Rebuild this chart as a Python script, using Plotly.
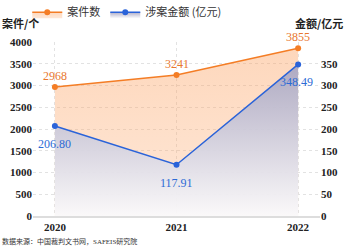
import plotly.graph_objects as go

years = ["2020", "2021", "2022"]
cases = [2968, 3241, 3855]
amount = [206.80, 117.91, 348.49]
case_labels = ["2968", "3241", "3855"]
amount_labels = ["206.80", "117.91", "348.49"]
left_ticks = [0, 500, 1000, 1500, 2000, 2500, 3000, 3500, 4000]
right_ticks = [0, 50, 100, 150, 200, 250, 300, 350]

ORANGE = "#f47d25"
BLUE = "#2a63d9"
SERIF = "Liberation Serif, Times New Roman, serif"
CJK = "Noto Sans CJK SC, sans-serif"

fig = go.Figure()
fig.add_trace(go.Scatter(
    x=years, y=cases, name="案件数", mode="lines+markers",
    line=dict(color=ORANGE, width=1.5), marker=dict(color=ORANGE, size=6),
    fill="tozeroy",
    fillgradient=dict(type="vertical", colorscale=[[0, "rgba(252,175,120,0.30)"], [1, "rgba(252,160,95,0.42)"]]),
    yaxis="y", cliponaxis=False,
))
fig.add_trace(go.Scatter(
    x=years, y=amount, name="涉案金额 (亿元)", mode="lines+markers",
    line=dict(color=BLUE, width=1.5), marker=dict(color=BLUE, size=6),
    fill="tozeroy",
    fillgradient=dict(type="vertical", colorscale=[[0, "rgba(250,250,252,0.93)"], [1, "rgba(168,166,194,0.93)"]]),
    yaxis="y2", cliponaxis=False,
))

annots = []
for i, (y, t) in enumerate(zip(cases, case_labels)):
    annots.append(dict(x=i, y=y, xref="x", yref="y", text=t, showarrow=False,
                       yshift=11, font=dict(family=SERIF, size=12, color="#e8772e")))
for i, (y, t) in enumerate(zip(amount, amount_labels)):
    annots.append(dict(x=i, y=y, xref="x", yref="y2", text=t, showarrow=False,
                       yshift=-18, xshift=(-2 if i == 2 else 0),
                       font=dict(family=SERIF, size=12, color="#2c6bd6")))

annots += [
    dict(text="案件/个", xref="paper", yref="paper", x=-0.115, y=1.11,
         xanchor="left", yanchor="middle", showarrow=False,
         font=dict(family=CJK, size=11, color="#222", weight="bold")),
    dict(text="金额/亿元", xref="paper", yref="paper", x=1.087, y=1.11,
         xanchor="right", yanchor="middle", showarrow=False,
         font=dict(family=CJK, size=11, color="#222", weight="bold")),
    dict(text="数据来源：中国裁判文书网，SAFEIS研究院", xref="paper", yref="paper",
         x=-0.115, y=-0.144, xanchor="left", yanchor="middle", showarrow=False,
         font=dict(family=SERIF + ", Noto Sans CJK SC", size=7, color="#333")),
]

grid = "#e2e2e2"
fig.update_layout(
    width=348, height=248,
    margin=dict(l=33, r=28, t=42, b=32, autoexpand=False),
    paper_bgcolor="white", plot_bgcolor="white",
    showlegend=True,
    legend=dict(orientation="h", x=-0.02, xanchor="left", y=1.255, yanchor="top",
                font=dict(family=CJK, size=11, color="#333"),
                itemwidth=30, tracegroupgap=0, bgcolor="rgba(0,0,0,0)"),
    xaxis=dict(type="category", range=[-0.18, 2.18], showgrid=True, gridcolor=grid,
               griddash="dot", showline=True, linecolor="#dddddd", linewidth=1.5,
               ticks="", automargin=False,
               tickfont=dict(family=SERIF, size=11, color="#222", weight="bold")),
    yaxis=dict(range=[0, 4000], tickvals=left_ticks, showgrid=True, gridcolor=grid,
               griddash="dot", zeroline=False, showline=False, ticks="", automargin=False,
               tickfont=dict(family=SERIF, size=11, color="#222", weight="bold")),
    yaxis2=dict(range=[0, 400], tickvals=right_ticks, overlaying="y", side="right",
                showgrid=False, zeroline=False, showline=False, ticks="", automargin=False,
                tickfont=dict(family=SERIF, size=11, color="#222", weight="bold")),
    annotations=annots,
)

fig.write_html("out.html", config={"displayModeBar": False},
               post_script="document.body.style.margin='0';document.body.style.overflow='hidden';")
